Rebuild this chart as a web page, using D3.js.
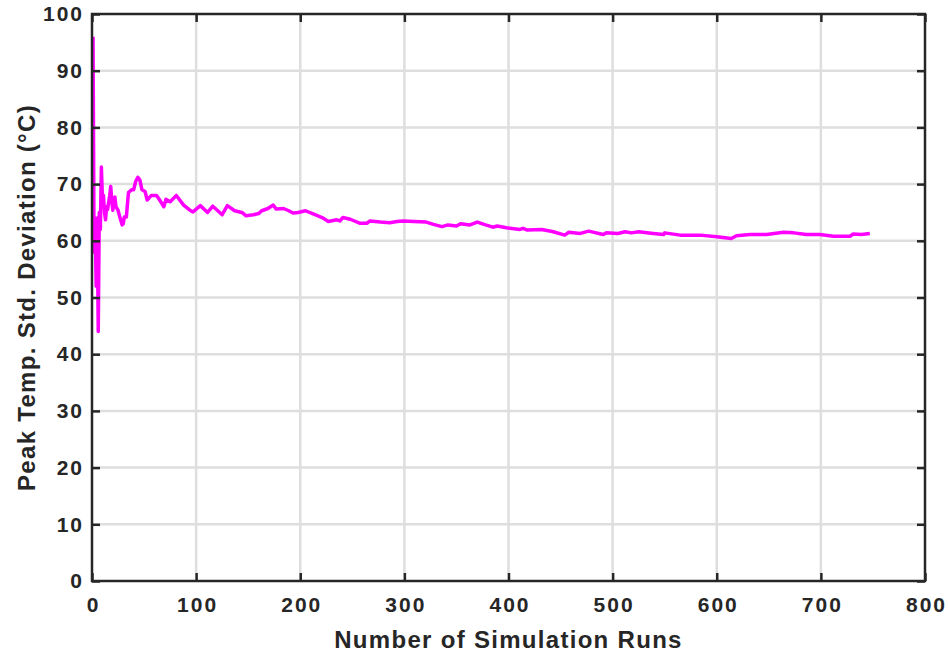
<!DOCTYPE html>
<html>
<head>
<meta charset="utf-8">
<script src="https://cdn.jsdelivr.net/npm/d3@7/dist/d3.min.js"></script>
<style>
  body { margin: 0; background: #fff; }
  svg text { font-family: "Liberation Sans", Arial, sans-serif; font-weight: bold; fill: #262626; }
</style>
</head>
<body>
<div class="chart"></div>
<script>
const svgWidth = 948, svgHeight = 655;
const margin = { top: 14, right: 23, bottom: 74, left: 92 };

// running std. deviation of the peak temperature after each simulation run
var runs = [1, 2, 3, 4, 5, 6, 7, 8, 9, 10, 11, 12, 13, 14, 15, 17, 18, 19, 20, 21, 22, 23, 25, 27, 29, 30, 31, 33, 35, 38, 40, 42, 44, 46, 48, 51, 53, 57, 62, 65, 69, 71, 75, 81, 88, 94, 97, 104, 111, 116, 125, 130, 137, 144, 148, 155, 160, 163, 169, 174, 177, 184, 189, 193, 198, 205, 213, 221, 227, 235, 238, 241, 248, 257, 264, 267, 277, 286, 293, 299, 309, 321, 328, 336, 342, 350, 354, 363, 370, 378, 385, 389, 398, 411, 414, 418, 432, 443, 454, 458, 469, 477, 491, 494, 505, 512, 518, 525, 539, 549, 550, 565, 584, 600, 614, 619, 632, 648, 664, 674, 686, 699, 712, 728, 731, 739, 747];
var stdDev = [96, 58, 64, 52, 64, 44, 65, 62, 73, 67.5, 68, 65, 63.7, 66, 65.5, 68, 69.6, 67, 65.4, 67.5, 67.7, 66, 65.4, 64, 62.8, 63, 64.2, 64.2, 68.5, 69, 69, 70.5, 71.2, 70.7, 69, 68.7, 67.2, 68, 68, 67.2, 66, 67.3, 66.9, 68, 66.3, 65.4, 65.1, 66.2, 65, 66.1, 64.6, 66.2, 65.3, 65, 64.4, 64.6, 64.8, 65.3, 65.7, 66.3, 65.6, 65.7, 65.3, 64.9, 65, 65.3, 64.7, 64.1, 63.4, 63.7, 63.5, 64.1, 63.8, 63.1, 63.1, 63.5, 63.3, 63.2, 63.4, 63.5, 63.4, 63.3, 62.9, 62.5, 62.8, 62.6, 63, 62.8, 63.3, 62.8, 62.4, 62.6, 62.3, 62, 62.2, 61.9, 62, 61.6, 61, 61.5, 61.3, 61.7, 61.1, 61.4, 61.3, 61.6, 61.4, 61.6, 61.3, 61.1, 61.4, 61, 61, 60.7, 60.4, 60.9, 61.1, 61.1, 61.5, 61.4, 61.1, 61.1, 60.8, 60.8, 61.2, 61.1, 61.3];

var xTicks = [0, 100, 200, 300, 400, 500, 600, 700, 800];
var yTicks = [0, 10, 20, 30, 40, 50, 60, 70, 80, 90, 100];

var width = svgWidth - margin.left - margin.right;
var height = svgHeight - margin.top - margin.bottom;

var svg = d3.select(".chart").append("svg")
    .attr("width", svgWidth)
    .attr("height", svgHeight);

var g = svg.append("g")
    .attr("transform", "translate(" + margin.left + "," + margin.top + ")");

var xScale = d3.scaleLinear().domain([0, 800]).range([0, width]);
var yScale = d3.scaleLinear().domain([0, 100]).range([height, 0]);

// grid
g.append("g")
    .selectAll("line.gx")
    .data(xTicks.slice(1, -1))
    .enter().append("line")
    .attr("x1", function (d) { return xScale(d); })
    .attr("x2", function (d) { return xScale(d); })
    .attr("y1", 0)
    .attr("y2", height)
    .style("stroke", "#dedede")
    .style("stroke-width", 2.5);

g.append("g")
    .selectAll("line.gy")
    .data(yTicks.slice(1, -1))
    .enter().append("line")
    .attr("x1", 0)
    .attr("x2", width)
    .attr("y1", function (d) { return yScale(d); })
    .attr("y2", function (d) { return yScale(d); })
    .style("stroke", "#dedede")
    .style("stroke-width", 2.5);

// the curve
var points = runs.map(function (r, i) { return [r, stdDev[i]]; });
var line = d3.line()
    .x(function (d) { return xScale(d[0]); })
    .y(function (d) { return yScale(d[1]); });

g.append("path")
    .datum(points)
    .attr("d", line)
    .style("fill", "none")
    .style("stroke", "#ff00ff")
    .style("stroke-width", 3.5)
    .style("stroke-linejoin", "round");

// axes with inward ticks on all four sides
function styleAxis(sel) {
    sel.select(".domain").remove();
    sel.selectAll(".tick line").style("stroke", "#262626").style("stroke-width", 2.5);
    sel.selectAll(".tick text")
        .style("font-size", "21px")
        .style("letter-spacing", "2px");
}

g.append("g")
    .attr("transform", "translate(0," + height + ")")
    .call(d3.axisBottom(xScale).tickValues(xTicks).tickSize(-8).tickPadding(16))
    .call(styleAxis)
    .selectAll(".tick text").attr("dx", "1px");

g.append("g")
    .call(d3.axisLeft(yScale).tickValues(yTicks).tickSize(-8).tickPadding(8))
    .call(styleAxis);

g.append("g")
    .call(d3.axisTop(xScale).tickValues(xTicks).tickSize(-8).tickFormat(""))
    .call(styleAxis);

g.append("g")
    .attr("transform", "translate(" + width + ",0)")
    .call(d3.axisRight(yScale).tickValues(yTicks).tickSize(-8).tickFormat(""))
    .call(styleAxis);

g.append("rect")
    .attr("width", width)
    .attr("height", height)
    .style("fill", "none")
    .style("stroke", "#262626")
    .style("stroke-width", 2.5);

// axis titles
svg.append("text")
    .attr("x", margin.left + width / 2)
    .attr("y", 648)
    .style("text-anchor", "middle")
    .style("font-size", "24px")
    .style("letter-spacing", "1.3px")
    .text("Number of Simulation Runs");

svg.append("text")
    .attr("transform", "translate(35," + (margin.top + height / 2) + ") rotate(-90)")
    .style("text-anchor", "middle")
    .style("font-size", "24px")
    .style("letter-spacing", "1.3px")
    .text("Peak Temp. Std. Deviation (°C)");
</script>
</body>
</html>
